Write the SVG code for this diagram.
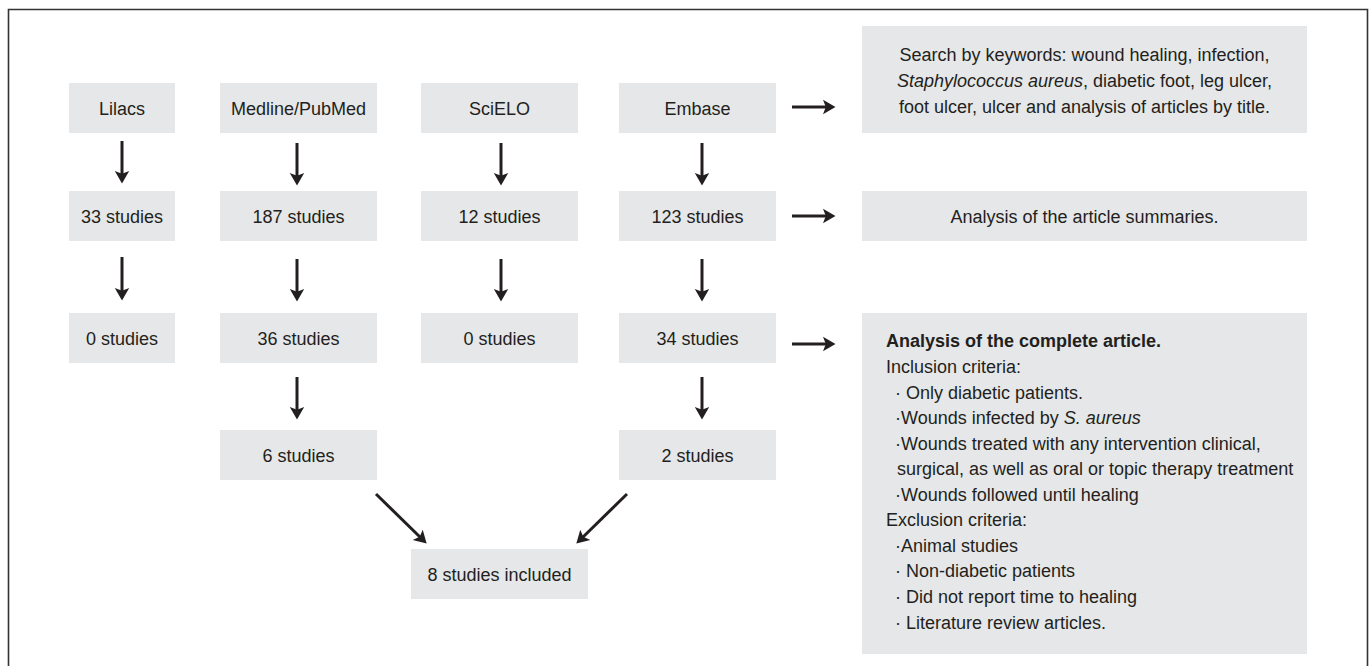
<svg xmlns="http://www.w3.org/2000/svg" width="1370" height="666" viewBox="0 0 1370 666">
<style>
.box{fill:#e6e7e8;}
.t{font-family:"Liberation Sans",Arial,sans-serif;font-size:18px;fill:#231f20;}
.c{text-anchor:middle;}
.b{font-weight:bold;}
.i{font-style:italic;}
.arr{stroke:#231f20;stroke-width:3;fill:none;marker-end:url(#ah);}
.frame{stroke:#333;stroke-width:1.6;fill:none;}
</style>
<defs>
<marker id="ah" markerUnits="userSpaceOnUse" markerWidth="13" markerHeight="16" viewBox="0 0 13 16" refX="6" refY="8" orient="auto">
<path d="M0,0.8 L12.5,8 L0,15.2 L2.8,8 Z" fill="#231f20"/>
</marker>
</defs>
<rect width="1370" height="666" fill="#fff"/>
<path class="frame" d="M8.5,666 V9.5 H1367.5 V666"/>

<g id="lilacs"><rect class="box" x="69" y="83" width="106" height="50"/><text class="t c" x="122" y="114.5">Lilacs</text></g>
<g id="medline"><rect class="box" x="220" y="83" width="157" height="50"/><text class="t c" x="298.5" y="114.5">Medline/PubMed</text></g>
<g id="scielo"><rect class="box" x="421" y="83" width="157" height="50"/><text class="t c" x="499.5" y="114.5">SciELO</text></g>
<g id="embase"><rect class="box" x="619" y="83" width="157" height="50"/><text class="t c" x="697.5" y="114.5">Embase</text></g>

<g id="lilacs33"><rect class="box" x="69" y="191" width="106" height="50"/><text class="t c" x="122" y="222.5">33 studies</text></g>
<g id="medline187"><rect class="box" x="220" y="191" width="157" height="50"/><text class="t c" x="298.5" y="222.5">187 studies</text></g>
<g id="scielo12"><rect class="box" x="421" y="191" width="157" height="50"/><text class="t c" x="499.5" y="222.5">12 studies</text></g>
<g id="embase123"><rect class="box" x="619" y="191" width="157" height="50"/><text class="t c" x="697.5" y="222.5">123 studies</text></g>

<g id="lilacs0"><rect class="box" x="69" y="313" width="106" height="50"/><text class="t c" x="122" y="344.5">0 studies</text></g>
<g id="medline36"><rect class="box" x="220" y="313" width="157" height="50"/><text class="t c" x="298.5" y="344.5">36 studies</text></g>
<g id="scielo0"><rect class="box" x="421" y="313" width="157" height="50"/><text class="t c" x="499.5" y="344.5">0 studies</text></g>
<g id="embase34"><rect class="box" x="619" y="313" width="157" height="50"/><text class="t c" x="697.5" y="344.5">34 studies</text></g>

<g id="medline6"><rect class="box" x="220" y="430" width="157" height="50"/><text class="t c" x="298.5" y="461.5">6 studies</text></g>
<g id="embase2"><rect class="box" x="619" y="430" width="157" height="50"/><text class="t c" x="697.5" y="461.5">2 studies</text></g>

<g id="included"><rect class="box" x="411" y="549" width="177" height="50"/><text class="t c" x="499.5" y="580.5">8 studies included</text></g>

<g id="keywords"><rect class="box" x="862" y="26" width="445" height="107"/>
<text class="t c" x="1084.5" y="61">Search by keywords: wound healing, infection,</text>
<text class="t c" x="1084.5" y="87"><tspan class="i">Staphylococcus aureus</tspan>, diabetic foot, leg ulcer,</text>
<text class="t c" x="1084.5" y="113">foot ulcer, ulcer and analysis of articles by title.</text>
</g>
<g id="summaries"><rect class="box" x="862" y="191" width="445" height="50"/><text class="t c" x="1084.5" y="222.5">Analysis of the article summaries.</text></g>
<g id="complete"><rect class="box" x="862" y="313" width="445" height="341"/>
<text class="t b" x="886" y="347">Analysis of the complete article.</text>
<text class="t" x="886" y="373">Inclusion criteria:</text>
<text class="t" x="895" y="398.5">· Only diabetic patients.</text>
<text class="t" x="895" y="424">·Wounds infected by <tspan class="i">S. aureus</tspan></text>
<text class="t" x="895" y="449.5">·Wounds treated with any intervention clinical,</text>
<text class="t" x="897" y="475">surgical, as well as oral or topic therapy treatment</text>
<text class="t" x="895" y="501">·Wounds followed until healing</text>
<text class="t" x="886" y="526">Exclusion criteria:</text>
<text class="t" x="895" y="552">·Animal studies</text>
<text class="t" x="895" y="577">· Non-diabetic patients</text>
<text class="t" x="895" y="603">· Did not report time to healing</text>
<text class="t" x="895" y="629">· Literature review articles.</text>
</g>

<g id="connectors">
<line class="arr" x1="122" y1="141" x2="122" y2="177"/>
<line class="arr" x1="297" y1="143" x2="297" y2="179"/>
<line class="arr" x1="501" y1="143" x2="501" y2="179"/>
<line class="arr" x1="702" y1="143" x2="702" y2="179"/>
<line class="arr" x1="122" y1="257" x2="122" y2="294"/>
<line class="arr" x1="297" y1="259" x2="297" y2="295"/>
<line class="arr" x1="501" y1="259" x2="501" y2="295"/>
<line class="arr" x1="702" y1="259" x2="702" y2="295"/>
<line class="arr" x1="297" y1="377" x2="297" y2="413"/>
<line class="arr" x1="702" y1="377" x2="702" y2="413"/>
<line class="arr" x1="792" y1="107" x2="829" y2="107"/>
<line class="arr" x1="792" y1="216" x2="829" y2="216"/>
<line class="arr" x1="792" y1="344" x2="829" y2="344"/>
<line class="arr" x1="376" y1="494" x2="422" y2="539"/>
<line class="arr" x1="627" y1="494" x2="581" y2="539"/>
</g>
</svg>
